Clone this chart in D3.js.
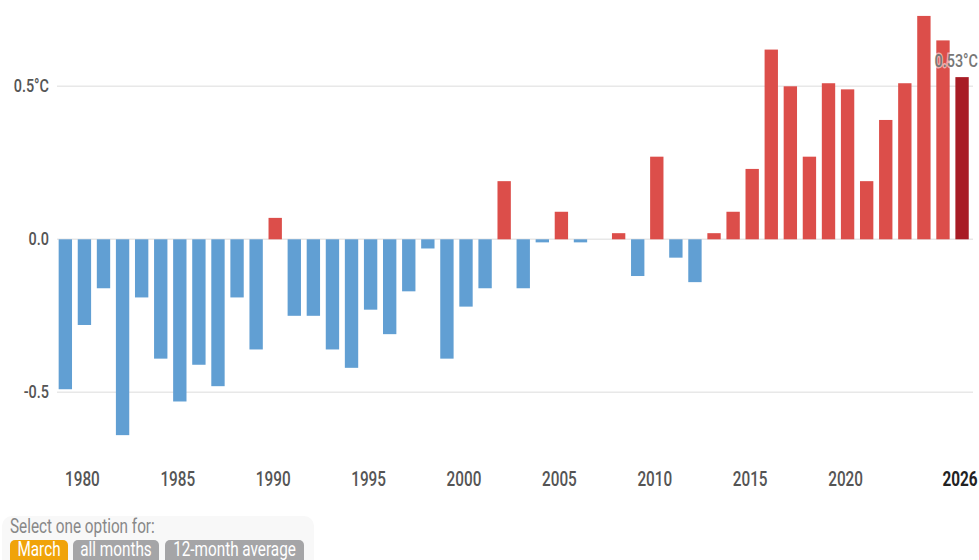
<!DOCTYPE html>
<html>
<head>
<meta charset="utf-8">
<script src="https://cdn.jsdelivr.net/npm/d3@7"></script>
<style>
	body { margin: 0; background: #fff; }
	svg { display: block; font-family: Roboto, "Noto Sans", sans-serif; }
</style>
</head>
<body>
<svg id="chart" width="979" height="560"></svg>
<script>
(function() {
	// March anomaly, °C, 1979-2026
	let years = d3.range(1979, 2027);
	let anomalies = [
		-0.49, -0.28, -0.16, -0.64, -0.19, -0.39, -0.53, -0.41, -0.48, -0.19,
		-0.36, 0.07, -0.25, -0.25, -0.36, -0.42, -0.23, -0.31, -0.17, -0.03,
		-0.39, -0.22, -0.16, 0.19, -0.16, -0.01, 0.09, -0.01, 0.00, 0.02,
		-0.12, 0.27, -0.06, -0.14, 0.02, 0.09, 0.23, 0.62, 0.50, 0.27,
		0.51, 0.49, 0.19, 0.39, 0.51, 0.73, 0.65, 0.53
	];
	let yTicks = [-0.5, 0, 0.5];
	let yTickLabels = ['-0.5', '0.0', '0.5°C'];
	let xTicks = [1980, 1985, 1990, 1995, 2000, 2005, 2010, 2015, 2020, 2026];
	let options = ['March', 'all months', '12-month average'];

	let svg = d3.select('#chart');

	let x = d3.scaleBand()
		.domain(years)
		.range([55.8, 971.6])
		.paddingInner(0.3)
		.paddingOuter(0.15);

	let y = d3.scaleLinear()
		.domain([-0.5, 0.5])
		.range([392.3, 86.3]);

	// condensed look of the original font
	let squeeze = (tx, ty) => `translate(${tx},${ty}) scale(0.9,1.2)`;

	svg.append('g')
		.selectAll('line')
		.data(yTicks)
		.enter()
		.append('line')
		.attr('x1', 57)
		.attr('x2', 973)
		.attr('y1', d => y(d))
		.attr('y2', d => y(d))
		.attr('stroke', '#e8e8e8')
		.attr('stroke-width', 1.5);

	svg.append('g')
		.selectAll('text')
		.data(yTicks)
		.enter()
		.append('text')
		.attr('transform', d => squeeze(49, y(d) + 6))
		.attr('text-anchor', 'end')
		.attr('font-size', 16)
		.attr('font-weight', 500)
		.attr('fill', '#555')
		.text((d, i) => yTickLabels[i]);

	let last = years[years.length - 1];

	svg.append('g')
		.selectAll('rect')
		.data(years)
		.enter()
		.append('rect')
		.attr('x', d => x(d))
		.attr('width', x.bandwidth())
		.attr('y', (d, i) => y(Math.max(0, anomalies[i])))
		.attr('height', (d, i) => Math.abs(y(anomalies[i]) - y(0)))
		.attr('fill', (d, i) => d === last ? '#a81c25' : (anomalies[i] >= 0 ? '#dc4e4a' : '#619fd3'));

	// value label for the latest year, with a soft halo over the bars
	svg.append('text')
		.attr('transform', squeeze(978, 67))
		.attr('text-anchor', 'end')
		.attr('font-size', 16)
		.attr('font-weight', 500)
		.attr('fill', '#777')
		.attr('stroke', '#fff')
		.attr('stroke-opacity', 0.55)
		.attr('stroke-width', 2.5)
		.attr('paint-order', 'stroke')
		.text(d3.format('.2f')(anomalies[anomalies.length - 1]) + '°C');

	svg.append('g')
		.selectAll('text')
		.data(xTicks)
		.enter()
		.append('text')
		.attr('transform', d => squeeze(x(d) + x.bandwidth() / 2 - 2, 486))
		.attr('text-anchor', 'middle')
		.attr('font-size', 17)
		.attr('font-weight', d => d === last ? 700 : 500)
		.attr('fill', d => d === last ? '#222' : '#555')
		.text(d => d);

	// option buttons at the bottom
	svg.append('rect')
		.attr('x', 2)
		.attr('y', 516)
		.attr('width', 312)
		.attr('height', 60)
		.attr('rx', 10)
		.attr('fill', '#f8f8f8');

	svg.append('text')
		.attr('transform', squeeze(10, 533))
		.attr('font-size', 17)
		.attr('fill', '#888')
		.text('Select one option for:');

	let btnX = [10, 73, 165];
	let btnW = [58, 86, 139];
	let btns = svg.append('g')
		.selectAll('g')
		.data(options)
		.enter()
		.append('g');
	btns.append('rect')
		.attr('x', (d, i) => btnX[i])
		.attr('y', 540)
		.attr('width', (d, i) => btnW[i])
		.attr('height', 26)
		.attr('rx', 5)
		.attr('fill', (d, i) => i === 0 ? '#f0a30a' : '#a5a5a7');
	btns.append('text')
		.attr('transform', (d, i) => squeeze(btnX[i] + btnW[i] / 2, 556))
		.attr('text-anchor', 'middle')
		.attr('font-size', 17)
		.attr('fill', '#fff')
		.text(d => d);
})();
</script>
</body>
</html>
